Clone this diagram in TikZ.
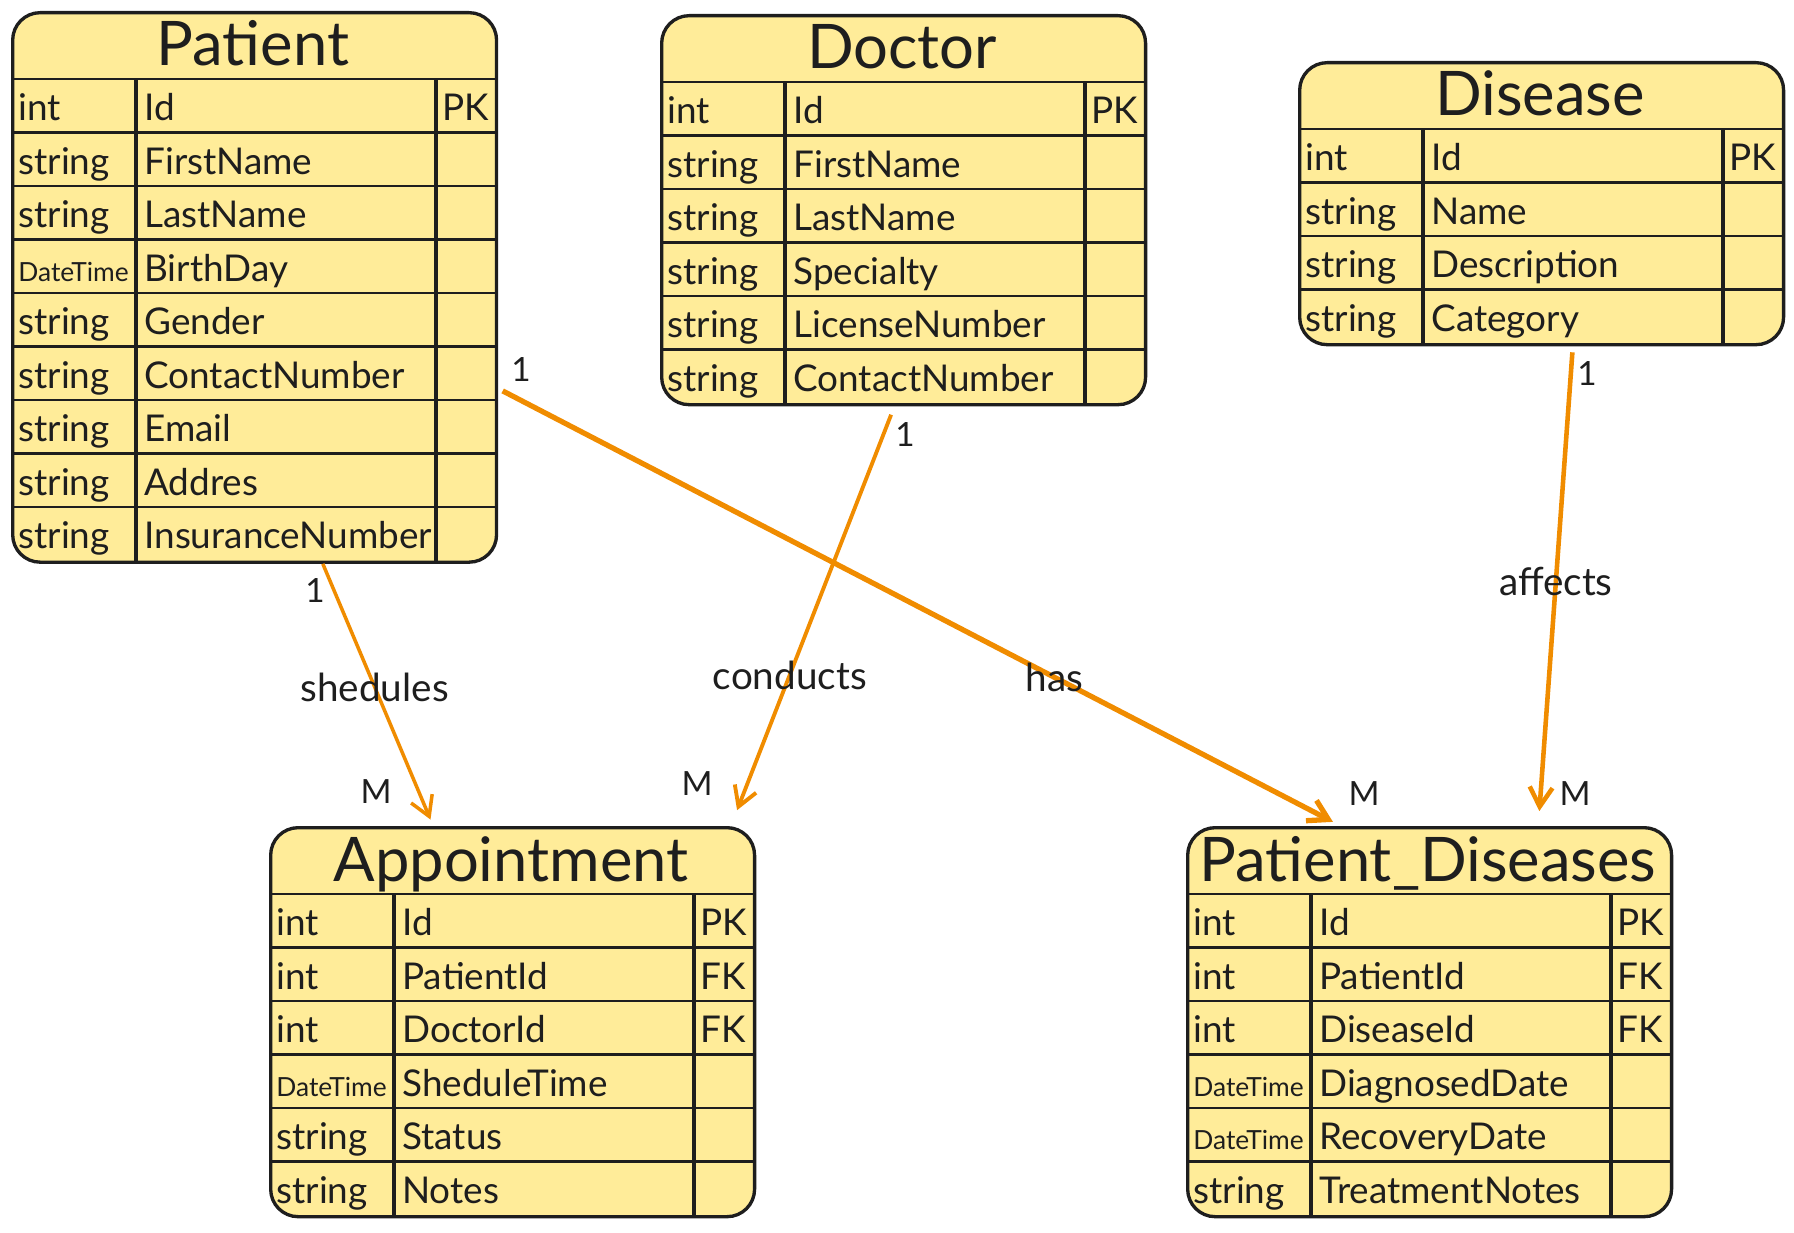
\documentclass[tikz,border=0pt]{standalone}
\usepackage{fontspec}
\setmainfont{Lato}
\usetikzlibrary{arrows.meta, calc, positioning}

\definecolor{notefill}{HTML}{FFEC99}
\definecolor{inkline}{HTML}{1E1E1E}
\definecolor{relorange}{HTML}{F08C00}

\tikzset{
  entity/.style={draw=inkline, fill=notefill, line width=1.9pt, rounded corners=0.55cm, inner sep=0pt},
  rowline/.style={draw=inkline, line width=1.3pt},
  colline/.style={draw=inkline, line width=1.8pt},
  title/.style={font=\fontsize{35}{38}\selectfont, text=inkline, inner sep=0pt, anchor=base},
  cell/.style={font=\fontsize{21}{24}\selectfont, text=inkline, inner sep=0pt, anchor=base west},
  rel/.style={draw=relorange, line width=2.2pt, -{Straight Barb[length=11pt,width=13pt]}},
  rellabel/.style={font=\fontsize{22}{24}\selectfont, text=inkline, inner sep=0pt},
  card/.style={font=\fontsize{19}{21}\selectfont, text=inkline, inner sep=0pt}
}

\newcommand{\dtime}{{\fontsize{15}{16}\selectfont DateTime}}

% #1 tên, #2 x, #3 y, #4 tiêu đề, #5 số dòng, #6 các dòng
\newcommand{\erentity}[6]{%
  \pgfmathsetmacro{\entH}{68+#5*53.5}
  \pgfmathsetmacro{\entHcm}{\entH*0.02}
  \node[entity, minimum width=9.68cm, minimum height=\entHcm cm, anchor=north west] (#1) at (#2,#3) {};
  \node[title] (#1-name) at ({#2+242},{#3+55}) {#4};
  \draw[rowline] (#2,{#3+68}) -- ({#2+484},{#3+68}); % dưới tiêu đề
  \draw[colline] ({#2+125},{#3+68}) -- ({#2+125},{#3+\entH}); % cột kiểu
  \draw[colline] ({#2+425},{#3+68}) -- ({#2+425},{#3+\entH}); % cột khóa
  \foreach \i in {2,...,#5}
    \draw[rowline] (#2,{#3+68+(\i-1)*53.5}) -- ({#2+484},{#3+68+(\i-1)*53.5});
  \foreach \typ/\fld/\key [count=\i] in {#6} {
    \pgfmathsetmacro{\yb}{#3+68+(\i-0.5)*53.5+15}
    \node[cell] (#1-ty\i) at ({#2+7},\yb) {\typ};
    \node[cell] (#1-fd\i) at ({#2+133},\yb) {\fld};
    \node[cell] (#1-ky\i) at ({#2+431},\yb) {\key};
  }
}

\begin{document}
\begin{tikzpicture}[x=0.02cm, y=-0.02cm]

        \useasboundingbox (0,0) rectangle (1794,1233);

        % Bảng Patient
        \erentity{patient}{11}{11}{Patient}{9}{int/Id/PK, string/FirstName/{}, string/LastName/{}, \dtime/BirthDay/{}, string/Gender/{}, string/ContactNumber/{}, string/Email/{}, string/Addres/{}, string/InsuranceNumber/{}}

        % Bảng Doctor
        \erentity{doctor}{660}{14}{Doctor}{6}{int/Id/PK, string/FirstName/{}, string/LastName/{}, string/Specialty/{}, string/LicenseNumber/{}, string/ContactNumber/{}}

        % Bảng Disease
        \erentity{disease}{1298}{61}{Disease}{4}{int/Id/PK, string/Name/{}, string/Description/{}, string/Category/{}}

        % Bảng Appointment
        \erentity{appointment}{269}{826}{Appointment}{6}{int/Id/PK, int/PatientId/FK, int/DoctorId/FK, \dtime/SheduleTime/{}, string/Status/{}, string/Notes/{}}

        % Bảng Patient_Diseases
        \erentity{patdis}{1186}{826}{Patient\_Diseases}{6}{int/Id/PK, int/PatientId/FK, int/DiseaseId/FK, \dtime/DiagnosedDate/{}, \dtime/RecoveryDate/{}, string/TreatmentNotes/{}}

        % Quan hệ
        \draw[rel, line width=2pt, shorten >=0.14cm] ($(patient.south west)!0.64!(patient.south east)$) -- node[rellabel, pos=0.47] (lbl-shed) {shedules} ($(appointment.north west)!0.337!(appointment.north east)$); % Patient -> Appointment
        \draw[rel, shorten <=0.18cm, shorten >=0.34cm] ($(doctor.south west)!0.481!(doctor.south east)$) -- node[rellabel, pos=0.64] (lbl-cond) {conducts} ($(appointment.north west)!0.948!(appointment.north east)$); % Doctor -> Appointment
        \draw[rel, line width=3pt, shorten <=0.1cm, shorten >=0.18cm] ($(patient.north east)!0.683!(patient.south east)$) -- node[rellabel, pos=0.66] (lbl-has) {has} ($(patdis.north west)!0.318!(patdis.north east)$); % Patient -> Patient_Diseases
        \draw[rel, line width=2.6pt, shorten <=0.12cm, shorten >=0.3cm] ($(disease.south west)!0.564!(disease.south east)$) -- node[rellabel, pos=0.49] (lbl-aff) {affects} ($(patdis.north west)!0.723!(patdis.north east)$); % Disease -> Patient_Diseases

        % Bản số
        \node[card] (c-shed-1) at (315,591) {1};
        \node[card] (c-shed-m) at (376,792) {M};
        \node[card] (c-cond-1) at (905,435) {1};
        \node[card] (c-cond-m) at (697,784) {M};
        \node[card] (c-has-1) at (521,370) {1};
        \node[card] (c-has-m) at (1364,794) {M};
        \node[card] (c-aff-1) at (1587,374) {1};
        \node[card] (c-aff-m) at (1575,794) {M};

\end{tikzpicture}
\end{document}
